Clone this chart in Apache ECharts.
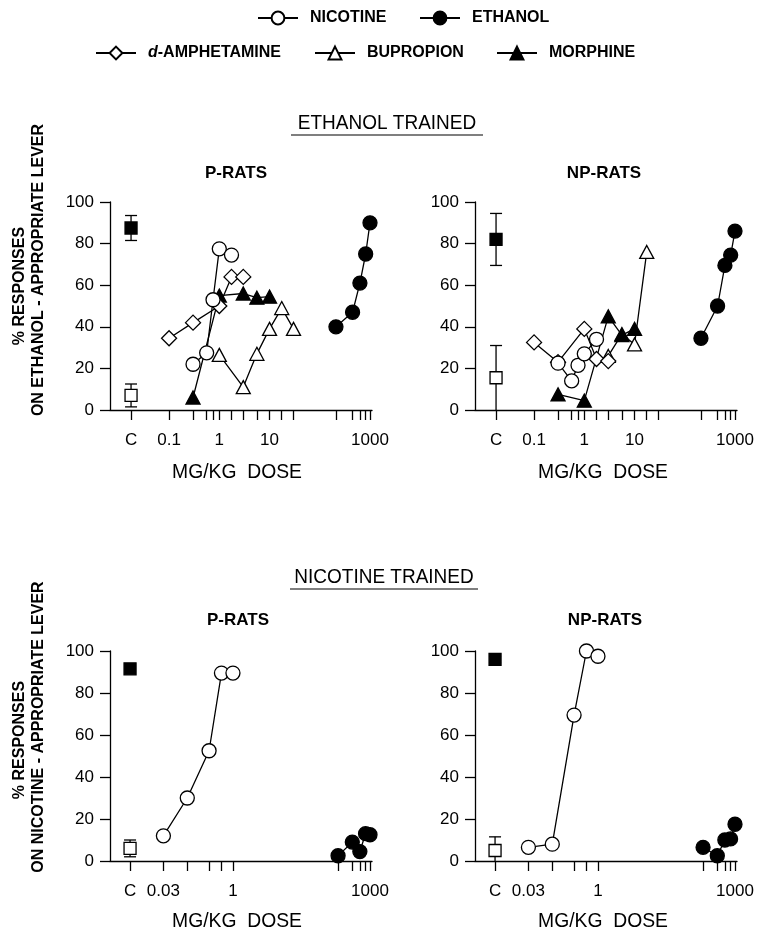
<!DOCTYPE html>
<html><head><meta charset="utf-8">
<script src="https://cdn.jsdelivr.net/npm/echarts@6/dist/echarts.min.js"></script>
<style>html,body{margin:0;padding:0;background:#fff}#c{width:758px;height:934px}</style>
</head><body><div id="c"></div>
<script>
// ================= DATA =================
// x-axis tick doses (mg/kg)
const topTickDoses = [0.1, 0.3, 0.56, 0.75, 1, 1.75, 3, 5.6, 10, 17.5, 30];
const topEthanolDoses = [210, 450, 630, 820, 1000];
const bottomTickDoses = [0.03, 0.1, 0.3, 0.56, 1];
const bottomEthanolDoses = [200, 410, 600, 800, 1000];
// tick labels
const topLabelDoses = [0.1, 1, 10, 1000];
const topLabelText = ['0.1', '1', '10', '1000'];
const bottomLabelDoses = [0.03, 1, 1000];
const bottomLabelText = ['0.03', '1', '1000'];
const controlLabel = 'C';

// ---- Ethanol trained, P-rats ----
const etP_nicDose = [0.3, 0.56, 0.75, 1, 1.75];
const etP_nic = [22, 27.5, 53, 77.5, 74.5];
const etP_ampDose = [0.1, 0.3, 1, 1.75, 3];
const etP_amp = [34.5, 42, 50, 64, 64];
const etP_bupDose = [1, 3, 5.6, 10, 17.5, 30];
const etP_bup = [26.5, 11, 27, 39, 49, 39];
const etP_morDose = [0.3, 1, 3, 5.6, 10];
const etP_mor = [6, 55, 56, 54, 54.5];
const etP_eth = [40, 47, 61, 75, 90];
const etP_ctrlEth = [87.5, 6];   // mean, error
const etP_ctrlVeh = [7, 5.5];

// ---- Ethanol trained, NP-rats ----
const etNP_nicDose = [0.3, 0.56, 0.75, 1, 1.75];
const etNP_nic = [22.5, 14, 21.5, 27, 34];
const etNP_ampDose = [0.1, 0.3, 1, 1.75, 3];
const etNP_amp = [32.5, 23, 39, 24.5, 23.5];
const etNP_bupDose = [3, 5.6, 10, 17.5];
const etNP_bup = [26, 36.5, 31.5, 76];
const etNP_morDose = [0.3, 1, 3, 5.6, 10];
const etNP_mor = [7.5, 4.5, 45, 36, 39];
const etNP_eth = [34.5, 50, 69.5, 74.5, 86];
const etNP_ctrlEth = [82, 12.5];
const etNP_ctrlVeh = [15.5, 15.5];

// ---- Nicotine trained, P-rats ----
const ntP_nicDose = [0.03, 0.1, 0.3, 0.56, 1];
const ntP_nic = [12, 30, 52.5, 89.5, 89.5];
const ntP_eth = [2.5, 9, 4.5, 13, 12.5];
const ntP_ctrlNic = [91.5, 0];
const ntP_ctrlVeh = [6, 4];

// ---- Nicotine trained, NP-rats ----
const ntNP_nicDose = [0.03, 0.1, 0.3, 0.56, 1];
const ntNP_nic = [6.5, 8, 69.5, 100, 97.5];
const ntNP_eth = [6.5, 2.5, 10, 10.5, 17.5];
const ntNP_ctrlNic = [96, 1.5];
const ntNP_ctrlVeh = [5, 6.5];

// ================= LAYOUT / STYLE =================
const FONT = "'Liberation Sans', Arial, Helvetica, sans-serif";
const BLACK = '#000';
const LW = 1.3;
const TOP_RANGE = [-2.176, 3.04], TOP_C = -1.757;
const BOT_RANGE = [-2.692, 3.044], BOT_C = -2.253;
const lg = v => Math.log10(v);

const STY = {
  'NICOTINE': {symbol: 'circle', size: 14, fill: '#fff'},
  'ETHANOL': {symbol: 'circle', size: 14, fill: BLACK},
  'd-AMPHETAMINE': {symbol: 'diamond', size: 15, fill: '#fff'},
  'BUPROPION': {symbol: 'triangle', size: [14, 13], fill: '#fff'},
  'MORPHINE': {symbol: 'triangle', size: [14, 13], fill: BLACK}
};

function lineSeries(name, gi, doses, vals) {
  const s = STY[name];
  return {
    type: 'line', name, xAxisIndex: gi, yAxisIndex: gi,
    data: doses.map((d, i) => [lg(d), vals[i]]),
    symbol: s.symbol, symbolSize: s.size, showSymbol: true, showAllSymbol: true,
    itemStyle: {color: s.fill, borderColor: BLACK, borderWidth: LW, opacity: 1},
    lineStyle: {color: BLACK, width: LW},
    clip: false, silent: true, emphasis: {disabled: true}, animation: false
  };
}
function controlSeries(gi, cPos, ctrl, filled) {
  return [{
    type: 'custom', xAxisIndex: gi, yAxisIndex: gi, silent: true, clip: false,
    data: [[cPos, ctrl[0], ctrl[1]]], encode: {x: 0, y: 1}, z: 2,
    renderItem: function (params, api) {
      const x = api.value(0), y = api.value(1), e = api.value(2);
      if (!e) return {type: 'group', children: []};
      const lo = y - e, hi = y + e;
      const pHi = api.coord([x, hi]);
      const pLo = api.coord([x, Math.max(0, lo)]);
      const ch = [
        {type: 'line', shape: {x1: pHi[0], y1: pHi[1], x2: pLo[0], y2: pLo[1]}, style: {stroke: BLACK, lineWidth: LW}},
        {type: 'line', shape: {x1: pHi[0] - 6, y1: pHi[1], x2: pHi[0] + 6, y2: pHi[1]}, style: {stroke: BLACK, lineWidth: LW}}
      ];
      if (lo > 0) ch.push({type: 'line', shape: {x1: pLo[0] - 6, y1: pLo[1], x2: pLo[0] + 6, y2: pLo[1]}, style: {stroke: BLACK, lineWidth: LW}});
      return {type: 'group', children: ch};
    }
  }, {
    type: 'scatter', xAxisIndex: gi, yAxisIndex: gi, silent: true, clip: false, z: 3,
    data: [[cPos, ctrl[0]]], symbol: 'rect', symbolSize: 12,
    itemStyle: {color: filled ? BLACK : '#fff', borderColor: BLACK, borderWidth: LW, opacity: 1},
    emphasis: {disabled: true}
  }];
}

const grids = [
  {left: 110, top: 202, width: 262, height: 208},
  {left: 475, top: 202, width: 262, height: 208},
  {left: 110, top: 651, width: 262, height: 210},
  {left: 475, top: 651, width: 262, height: 210}
];

function xAxis(gi, range, cPos, tickDoses, ethDoses, labelDoses, labelText) {
  const pairs = [[cPos, controlLabel]].concat(labelDoses.map((d, i) => [lg(d), labelText[i]]));
  const ticks = [cPos].concat(tickDoses.map(lg), ethDoses.map(lg));
  return {
    type: 'value', gridIndex: gi, min: range[0], max: range[1],
    axisLine: {show: true, onZero: false, lineStyle: {color: BLACK, width: LW}},
    axisTick: {show: true, inside: false, length: 10, customValues: ticks, lineStyle: {color: BLACK, width: LW}},
    axisLabel: {
      show: true, customValues: pairs.map(p => p[0]), margin: 22, color: BLACK,
      fontFamily: FONT, fontSize: 17,
      formatter: v => { const p = pairs.find(q => Math.abs(q[0] - v) < 1e-6); return p ? p[1] : ''; }
    },
    splitLine: {show: false}
  };
}
function yAxis(gi) {
  return {
    type: 'value', gridIndex: gi, min: 0, max: 100, interval: 20,
    axisLine: {show: true, onZero: false, lineStyle: {color: BLACK, width: LW}},
    axisTick: {show: true, inside: false, length: 10, lineStyle: {color: BLACK, width: LW}},
    axisLabel: {margin: 16, color: BLACK, fontFamily: FONT, fontSize: 17},
    splitLine: {show: false}
  };
}

const series = [].concat(
  // panel 0: ethanol trained, P
  controlSeries(0, TOP_C, etP_ctrlEth, true), controlSeries(0, TOP_C, etP_ctrlVeh, false),
  lineSeries('BUPROPION', 0, etP_bupDose, etP_bup),
  lineSeries('MORPHINE', 0, etP_morDose, etP_mor),
  lineSeries('d-AMPHETAMINE', 0, etP_ampDose, etP_amp),
  lineSeries('NICOTINE', 0, etP_nicDose, etP_nic),
  lineSeries('ETHANOL', 0, topEthanolDoses, etP_eth),
  // panel 1: ethanol trained, NP
  controlSeries(1, TOP_C, etNP_ctrlEth, true), controlSeries(1, TOP_C, etNP_ctrlVeh, false),
  lineSeries('BUPROPION', 1, etNP_bupDose, etNP_bup),
  lineSeries('MORPHINE', 1, etNP_morDose, etNP_mor),
  lineSeries('d-AMPHETAMINE', 1, etNP_ampDose, etNP_amp),
  lineSeries('NICOTINE', 1, etNP_nicDose, etNP_nic),
  lineSeries('ETHANOL', 1, topEthanolDoses, etNP_eth),
  // panel 2: nicotine trained, P
  controlSeries(2, BOT_C, ntP_ctrlNic, true), controlSeries(2, BOT_C, ntP_ctrlVeh, false),
  lineSeries('NICOTINE', 2, ntP_nicDose, ntP_nic),
  lineSeries('ETHANOL', 2, bottomEthanolDoses, ntP_eth),
  // panel 3: nicotine trained, NP
  controlSeries(3, BOT_C, ntNP_ctrlNic, true), controlSeries(3, BOT_C, ntNP_ctrlVeh, false),
  lineSeries('NICOTINE', 3, ntNP_nicDose, ntNP_nic),
  lineSeries('ETHANOL', 3, bottomEthanolDoses, ntNP_eth)
);

function legendItem(name, left, top) {
  return {
    data: [name], left, top, orient: 'horizontal', itemWidth: 40, itemHeight: 16,
    selectedMode: false, padding: 0,
    textStyle: {fontFamily: FONT, fontWeight: 'bold', fontSize: 16, color: BLACK, padding: [0, 0, 0, 7],
      rich: {i: {fontFamily: FONT, fontWeight: 'bold', fontStyle: 'italic', fontSize: 16, color: BLACK}}},
    formatter: n => n === 'd-AMPHETAMINE' ? '{i|d}-AMPHETAMINE' : n
  };
}

function txt(text, x, y, font, opts) {
  return Object.assign({type: 'text', x, y, silent: true,
    style: {text, x: 0, y: 0, font, fill: BLACK, textAlign: 'center', textVerticalAlign: 'middle'}}, opts || {});
}
function vtxt(text, x, y, font) {
  return {type: 'text', x, y, rotation: Math.PI / 2, silent: true,
    style: {text, x: 0, y: 0, font, fill: BLACK, textAlign: 'center', textVerticalAlign: 'middle'}};
}
function hline(x1, x2, y) {
  return {type: 'line', silent: true, shape: {x1, y1: y, x2, y2: y}, style: {stroke: BLACK, lineWidth: 1.2}};
}

const graphics = [
  txt('ETHANOL TRAINED', 387, 123, "20px " + FONT, {scaleX: 0.95}),
  hline(291, 483, 135),
  txt('NICOTINE TRAINED', 384, 577, "20px " + FONT, {scaleX: 0.95}),
  hline(290, 478, 589),
  txt('P-RATS', 236, 173, "bold 17px " + FONT),
  txt('NP-RATS', 604, 173, "bold 17px " + FONT),
  txt('P-RATS', 238, 620, "bold 17px " + FONT),
  txt('NP-RATS', 605, 620, "bold 17px " + FONT),
  txt('MG/KG  DOSE', 237, 472, "21px " + FONT, {scaleX: 0.92}),
  txt('MG/KG  DOSE', 603, 472, "21px " + FONT, {scaleX: 0.92}),
  txt('MG/KG  DOSE', 237, 921, "21px " + FONT, {scaleX: 0.92}),
  txt('MG/KG  DOSE', 603, 921, "21px " + FONT, {scaleX: 0.92}),
  vtxt('% RESPONSES', 20, 286, "bold 16px " + FONT),
  vtxt('ON ETHANOL - APPROPRIATE LEVER', 39, 270, "bold 16px " + FONT),
  vtxt('% RESPONSES', 20, 740, "bold 16px " + FONT),
  vtxt('ON NICOTINE - APPROPRIATE LEVER', 39, 727, "bold 16px " + FONT)
];

const option = {
  animation: false,
  backgroundColor: '#fff',
  grid: grids,
  xAxis: [
    xAxis(0, TOP_RANGE, TOP_C, topTickDoses, topEthanolDoses, topLabelDoses, topLabelText),
    xAxis(1, TOP_RANGE, TOP_C, topTickDoses, topEthanolDoses, topLabelDoses, topLabelText),
    xAxis(2, BOT_RANGE, BOT_C, bottomTickDoses, bottomEthanolDoses, bottomLabelDoses, bottomLabelText),
    xAxis(3, BOT_RANGE, BOT_C, bottomTickDoses, bottomEthanolDoses, bottomLabelDoses, bottomLabelText)
  ],
  yAxis: [yAxis(0), yAxis(1), yAxis(2), yAxis(3)],
  legend: [
    legendItem('NICOTINE', 257, 10),
    legendItem('ETHANOL', 419, 10),
    legendItem('d-AMPHETAMINE', 95, 45),
    legendItem('BUPROPION', 314, 45),
    legendItem('MORPHINE', 496, 45)
  ],
  tooltip: {show: false},
  series,
  graphic: graphics
};

const chart = echarts.init(document.getElementById('c'), null, {renderer: 'canvas'});
chart.setOption(option);
</script></body></html>
